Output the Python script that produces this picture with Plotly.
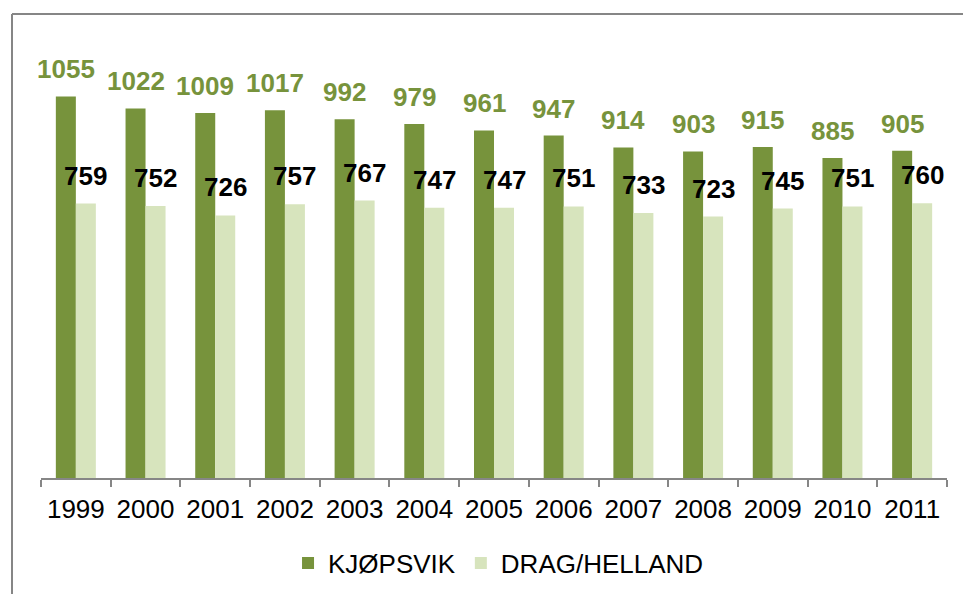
import plotly.graph_objects as go

years = ["1999", "2000", "2001", "2002", "2003", "2004", "2005", "2006", "2007", "2008", "2009", "2010", "2011"]
kjopsvik = [1055, 1022, 1009, 1017, 992, 979, 961, 947, 914, 903, 915, 885, 905]
drag_helland = [759, 752, 726, 757, 767, 747, 747, 751, 733, 723, 745, 751, 760]

DARK = "#77933C"
LIGHT = "#D7E4BD"
FONT = "Liberation Sans, Arial, sans-serif"

W, H = 963, 594
ML, MR, MT, MB = 41, 16, 44, 116
YMAX = 1200
BARGAP = 0.426
half = (1 - BARGAP) / 4  # offset of each bar centre from category centre

fig = go.Figure()
fig.add_trace(go.Bar(name="KJØPSVIK", x=years, y=kjopsvik, marker_color=DARK, marker_line_width=0))
fig.add_trace(go.Bar(name="DRAG/HELLAND", x=years, y=drag_helland, marker_color=LIGHT, marker_line_width=0))

annotations = []
for i, (a, b) in enumerate(zip(kjopsvik, drag_helland)):
    annotations.append(dict(x=i - half, y=a, xref="x", yref="y", text=str(a), showarrow=False,
                            yanchor="middle", yshift=27,
                            font=dict(family=FONT, size=26, color=DARK, weight="bold")))
    annotations.append(dict(x=i + half, y=b, xref="x", yref="y", text=str(b), showarrow=False,
                            yanchor="middle", yshift=28,
                            font=dict(family=FONT, size=26, color="black", weight="bold")))

pw = W - ML - MR
ph = H - MT - MB
bx0 = (12 - ML) / pw
by1 = (H - MB - 14) / ph
shapes = [
    dict(type="line", xref="paper", yref="paper", x0=bx0, x1=1.2, y0=by1, y1=by1,
         line=dict(color="#868686", width=2)),
    dict(type="line", xref="paper", yref="paper", x0=bx0, x1=bx0, y0=by1, y1=-0.5,
         line=dict(color="#868686", width=2)),
]

fig.update_layout(
    width=W, height=H,
    margin=dict(l=ML, r=MR, t=MT, b=MB, autoexpand=False),
    paper_bgcolor="white", plot_bgcolor="white",
    barmode="group", bargap=BARGAP, bargroupgap=0,
    font=dict(family=FONT, size=26, color="black"),
    xaxis=dict(type="category", tickson="boundaries", ticks="outside", ticklen=7, automargin=False,
               tickangle=0, range=[-0.5, len(years) - 0.5], ticklabelstandoff=7,
               tickcolor="#868686", tickwidth=1.5, showline=True, linecolor="#868686", linewidth=1.5,
               showgrid=False, tickfont=dict(family=FONT, size=26, color="black")),
    yaxis=dict(range=[0, YMAX], visible=False, showgrid=False, automargin=False),
    legend=dict(orientation="h", x=0.505, xanchor="center", y=-0.142, yanchor="top",
                font=dict(family=FONT, size=26, color="black"), itemwidth=30),
    annotations=annotations,
    shapes=shapes,
    showlegend=True,
)

fig.write_html("out.html", config={"displayModeBar": False},
               post_script="document.body.style.margin='0';document.body.style.padding='0';")
